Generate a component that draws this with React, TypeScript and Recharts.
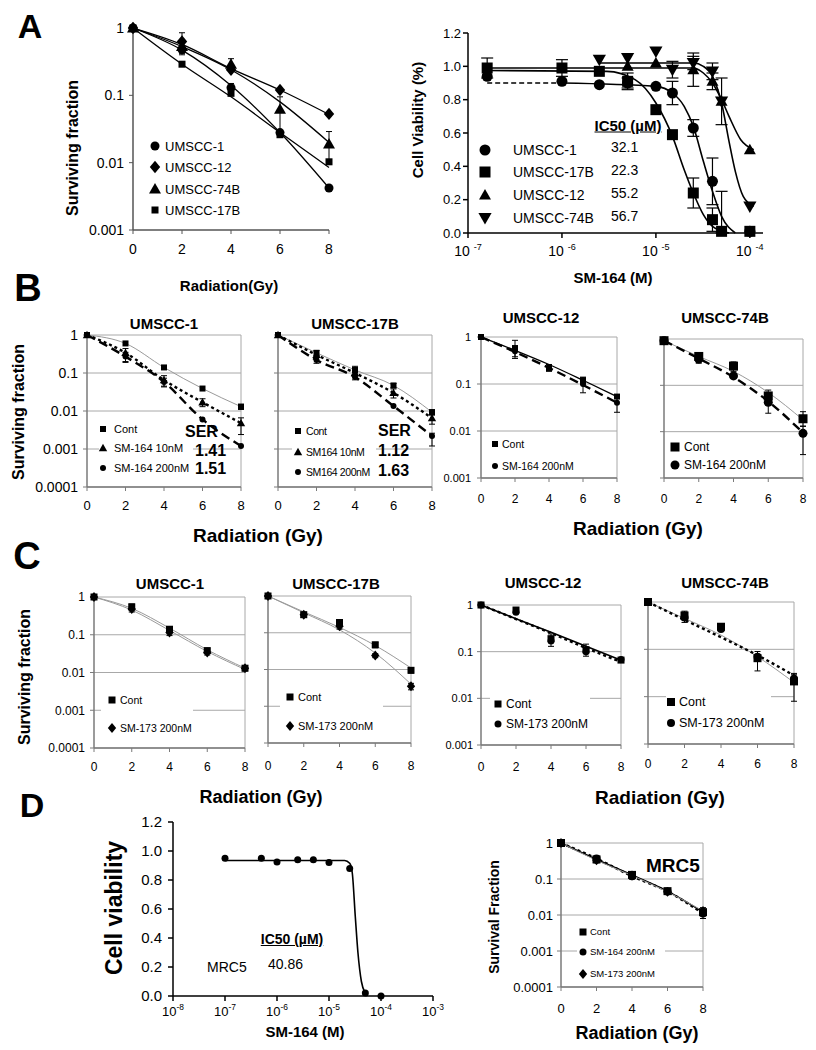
import React from "react";
import {
  ComposedChart,
  Line,
  Scatter,
  XAxis,
  YAxis,
  CartesianGrid,
  ErrorBar,
  ReferenceLine,
} from "recharts";

const FONT = "'Liberation Sans', Arial, Helvetica, sans-serif";

// radiation doses (Gy) shared by every survival panel
const doses = [0, 2, 4, 6, 8];
const dec4 = [0.0001, 0.001, 0.01, 0.1, 1];
const dec3 = [0.001, 0.01, 0.1, 1];

// ---- A (left): survival after radiation
const aUm1 = [1, 0.48, 0.13, 0.028, 0.0042];
const aUm12 = [1, 0.63, 0.24, 0.12, 0.053];
const aUm74 = [1, 0.53, 0.29, 0.062, 0.019];
const aUm17 = [1, 0.29, 0.107, 0.026, 0.0103];
const aFit1 = [1, 0.47, 0.14, 0.028, 0.0042];
const aFit12 = [1, 0.57, 0.25, 0.12, 0.052];
const aFit74 = [1, 0.53, 0.24, 0.08, 0.02];
const aFit17 = [1, 0.29, 0.095, 0.028, 0.0085];
const aErr1 = [0, [0.06, 0.06], [0.02, 0.02], 0, 0];
const aErr12 = [0, [0.23, 0.22], 0, 0, 0];
const aErr74 = [0, 0, [0.05, 0.06], [0.036, 0.033], [0.009, 0.01]];

// ---- A (right): SM-164 dose response
const vConc1 = [1.6e-7, 1e-6, 2.5e-6, 5e-6, 1e-5, 1.5e-5, 2.5e-5, 4e-5, 1e-4];
const vUm1 = [0.94, 0.91, 0.89, 0.9, 0.88, 0.84, 0.63, 0.31, 0.01];
const vErr1 = [0, 0, 0, 0.03, 0, 0.07, 0.05, 0.14, 0];
const vConc17 = [1.6e-7, 1e-6, 2.5e-6, 5e-6, 1e-5, 1.5e-5, 2.5e-5, 4e-5, 5e-5, 1e-4];
const vUm17 = [0.99, 0.99, 0.97, 0.91, 0.74, 0.59, 0.24, 0.08, 0.01, 0.01];
const vErr17 = [0.06, 0.05, 0, 0.05, 0, 0, 0.09, 0.07, [0.01, 0.24], 0];
const vConc12 = [5e-6, 1e-5, 2.5e-5, 4e-5, 5e-5, 1e-4];
const vUm12 = [1.0, 1.02, 0.98, 0.91, 0.79, 0.5];
const vErr12 = [0, 0, 0.1, 0.05, 0, 0];
const vConc74 = [2.5e-6, 5e-6, 1e-5, 1.5e-5, 2.5e-5, 4e-5, 5e-5, 1e-4];
const vUm74 = [1.04, 1.05, 1.09, 0.98, 1.02, 0.97, 0.79, 0.16];
const vErr74 = [0, 0, 0, 0.05, 0.04, 0.05, 0.14, 0];
// fitted curves
const fConc1a = [1.6e-7, 1e-6];
const fUm1a = [0.9, 0.9];
const fConc1b = [1e-6, 1e-5, 1.5e-5, 2e-5, 2.5e-5, 3.2e-5, 4e-5, 5e-5, 7e-5];
const fUm1b = [0.9, 0.88, 0.84, 0.76, 0.64, 0.43, 0.25, 0.1, 0];
const fConc17 = [1.6e-7, 3e-6, 6e-6, 1e-5, 1.5e-5, 2e-5, 2.5e-5, 3.2e-5, 4e-5, 6e-5];
const fUm17 = [0.975, 0.97, 0.92, 0.78, 0.58, 0.38, 0.24, 0.11, 0.04, 0];
const fConc12 = [1.6e-7, 2.5e-5, 3.2e-5, 4e-5, 5e-5, 6e-5, 8e-5, 1.1e-4];
const fUm12 = [0.99, 0.99, 0.96, 0.9, 0.8, 0.7, 0.56, 0.5];
const fConc74 = [2.5e-6, 2.5e-5, 3.2e-5, 4e-5, 5e-5, 6e-5, 7e-5, 8.5e-5, 1.1e-4];
const fUm74 = [1.02, 1.02, 1.0, 0.94, 0.78, 0.55, 0.37, 0.22, 0.16];

// ---- B: SM-164 radiosensitisation
const b1Cont = [1, 0.6, 0.14, 0.039, 0.013];
const b1Sm10 = [1, 0.34, 0.065, 0.017, 0.0048];
const b1Sm200 = [1, 0.27, 0.058, 0.006, 0.0012];
const b1ErrCont = [0, 0, 0, 0, [0.002, 0.002]];
const b1Err10 = [0, [0.14, 0.1], [0.02, 0.02], [0.004, 0.004], [0.0024, 0.0018]];
const b1Err200 = [0, [0.08, 0.08], [0.015, 0.015], 0, 0];

const b2Cont = [1, 0.34, 0.12, 0.047, 0.0093];
const b2Sm10 = [1, 0.3, 0.1, 0.03, 0.0065];
const b2Sm200 = [1, 0.22, 0.078, 0.0135, 0.0022];
const b2ErrCont = [0, [0.05, 0.05], [0.02, 0.03], [0.006, 0.006], [0.0015, 0.0015]];
const b2Err10 = [0, 0, 0, [0.008, 0.008], [0.002, 0.002]];
const b2Err200 = [0, [0.04, 0.04], [0.012, 0.012], 0, [0.001, 0.0004]];

const b3Cont = [1, 0.58, 0.21, 0.12, 0.054];
const b3Sm200 = [1, 0.5, 0.23, 0.1, 0.04];
const b3FitCont = [1, 0.52, 0.26, 0.12, 0.054];
const b3FitSm = [1, 0.48, 0.22, 0.095, 0.04];
const b3ErrCont = [0, [0.2, 0.27], 0, [0.02, 0.02], 0];
const b3ErrSm = [0, [0.15, 0.15], [0.03, 0.03], [0.035, 0.035], [0.015, 0.01]];

const b4Cont = [0.92, 0.42, 0.26, 0.059, 0.019];
const b4Sm200 = [0.92, 0.37, 0.16, 0.043, 0.0092];
const b4FitCont = [0.92, 0.42, 0.2, 0.07, 0.018];
const b4FitSm = [0.92, 0.38, 0.15, 0.045, 0.0095];
const b4ErrCont = [0, [0.08, 0.08], [0.06, 0.06], [0.02, 0.02], [0.006, 0.008]];
const b4ErrSm = [0, [0.07, 0.07], [0.02, 0.02], [0.018, 0.01], [0.006, 0.004]];

// ---- C: SM-173
const c1Cont = [1, 0.55, 0.14, 0.038, 0.013];
const c1Sm173 = [1, 0.48, 0.115, 0.034, 0.013];
const c1FitCont = [1, 0.5, 0.15, 0.04, 0.013];
const c1FitSm = [1, 0.45, 0.13, 0.036, 0.012];
const c1ErrCont = [0, [0.1, 0.1], [0.025, 0.025], [0.006, 0.006], [0.002, 0.002]];
const c1ErrSm = [0, [0.08, 0.08], [0.02, 0.02], [0.005, 0.005], 0];

const c2Cont = [1, 0.31, 0.19, 0.047, 0.0095];
const c2Sm173 = [1, 0.31, 0.15, 0.024, 0.0035];
const c2FitCont = [1, 0.37, 0.14, 0.045, 0.011];
const c2FitSm = [1, 0.35, 0.12, 0.028, 0.004];
const c2ErrCont = [0, [0.04, 0.04], [0.03, 0.03], [0.008, 0.008], [0.0015, 0.0015]];
const c2ErrSm = [0, [0.05, 0.05], [0.025, 0.025], [0.003, 0.003], [0.0007, 0.0007]];

const c3Cont = [1, 0.78, 0.19, 0.11, 0.066];
const c3Sm173 = [1, 0.7, 0.17, 0.1, 0.068];
const c3FitCont = [1, 0.51, 0.26, 0.13, 0.066];
const c3FitSm = [1, 0.5, 0.25, 0.12, 0.06];
const c3ErrCont = [0, [0.1, 0.1], [0.06, 0.05], [0.03, 0.035], 0];

const c4Cont = [1, 0.52, 0.3, 0.065, 0.021];
const c4Sm173 = [1, 0.47, 0.27, 0.07, 0.024];
const c4FitCont = [1, 0.45, 0.2, 0.07, 0.02];
const c4FitSm = [1, 0.42, 0.18, 0.075, 0.028];
const c4ErrCont = [0, [0.1, 0.12], [0.05, 0.05], [0.03, 0.025], [0.013, 0.01]];
const c4ErrSm = [0, [0.1, 0.1], 0, 0, [0.005, 0.005]];

// ---- D: normal fibroblasts MRC5
const dConc = [1e-7, 5e-7, 1e-6, 2.5e-6, 5e-6, 1e-5, 2.5e-5, 5e-5, 1e-4];
const dMrc5 = [0.95, 0.95, 0.925, 0.94, 0.94, 0.92, 0.88, 0.02, 0.0];
const dFitConc = [1e-7, 2e-5, 2.5e-5, 2.8e-5, 3.2e-5, 3.6e-5, 4.2e-5, 5e-5, 5.5e-5];
const dFit = [0.935, 0.935, 0.915, 0.85, 0.55, 0.3, 0.1, 0.02, 0];
const dRCont = [1, 0.35, 0.13, 0.046, 0.012];
const dRSm164 = [1, 0.37, 0.12, 0.045, 0.011];
const dRSm173 = [1, 0.33, 0.125, 0.044, 0.013];
const dRErrCont = [0, [0.07, 0.07], [0.03, 0.03], [0.008, 0.008], [0.004, 0.004]];

const vTicks = [0, 0.2, 0.4, 0.6, 0.8, 1.0, 1.2];
const aConcTicks = [1e-7, 1e-6, 1e-5, 1e-4];
const dConcTicks = [1e-8, 1e-7, 1e-6, 1e-5, 1e-4, 1e-3];

const mark = (kind: string, s: number) => (p: any) => {
  const { cx, cy } = p;
  if (cx == null || cy == null || isNaN(cx) || isNaN(cy)) return <g />;
  const h = s / 2;
  if (kind === "sq") return <rect x={cx - h} y={cy - h} width={s} height={s} fill="#000" />;
  if (kind === "ci") return <circle cx={cx} cy={cy} r={h} fill="#000" />;
  if (kind === "tri")
    return <polygon points={`${cx},${cy - s * 0.6} ${cx - s * 0.6},${cy + s * 0.45} ${cx + s * 0.6},${cy + s * 0.45}`} fill="#000" />;
  if (kind === "tdn")
    return <polygon points={`${cx},${cy + s * 0.6} ${cx - s * 0.6},${cy - s * 0.45} ${cx + s * 0.6},${cy - s * 0.45}`} fill="#000" />;
  return <polygon points={`${cx},${cy - s * 0.62} ${cx + s * 0.52},${cy} ${cx},${cy + s * 0.62} ${cx - s * 0.52},${cy}`} fill="#000" />;
};

const rows = (xs: number[], ys: number[], err?: any[]) =>
  xs.map((x, i) => ({ x, y: ys[i], e: err ? err[i] : 0 }));

function RadPanel({ box, yTicks, series, yFs, yGap = 5, xFs, xGap, framed, axis, cap = 3 }: any) {
  const yw = yFs ? 60 : 14;
  const mt = 10;
  const mr = 12;
  const xh = 34;
  return (
    <div style={{ position: "absolute", left: box.x - yw, top: box.y - mt }}>
      <ComposedChart width={yw + box.w + mr} height={mt + box.h + xh} margin={{ top: mt, right: mr, left: 0, bottom: 0 }}>
        {framed && <CartesianGrid vertical={false} stroke="#a8a8a8" />}
        {framed && <ReferenceLine x={8} stroke="#a8a8a8" />}
        <XAxis
          dataKey="x"
          type="number"
          domain={[0, 8]}
          ticks={doses}
          interval={0}
          height={xh}
          axisLine={{ stroke: axis, strokeWidth: 1.5 }}
          tickLine={{ stroke: axis }}
          tickSize={4}
          tickMargin={xGap}
          tick={{ fontSize: xFs, fill: "#000", fontFamily: FONT }}
        />
        <YAxis
          type="number"
          scale="log"
          domain={[yTicks[0], 1]}
          ticks={yTicks}
          interval={0}
          width={yw}
          axisLine={{ stroke: axis, strokeWidth: 1.5 }}
          tickLine={{ stroke: axis }}
          tickSize={4}
          tickMargin={yGap}
          tick={yFs ? { fontSize: yFs, fill: "#000", fontFamily: FONT } : () => <g />}
          tickFormatter={(v: number) => String(v)}
        />
        {series.map((s: any, i: number) => (
          <Line
            key={"l" + i}
            data={rows(doses, s.fit || s.vals)}
            dataKey="y"
            type="monotone"
            stroke={s.stroke}
            strokeWidth={s.sw}
            strokeDasharray={s.dash}
            dot={false}
            activeDot={false}
            legendType="none"
            isAnimationActive={false}
          />
        ))}
        {series.map((s: any, i: number) => (
          <Scatter
            key={"s" + i}
            data={rows(doses, s.vals, s.err)}
            dataKey="y"
            shape={mark(s.shape, s.size)}
            legendType="none"
            isAnimationActive={false}
          >
            {s.err && <ErrorBar dataKey="e" direction="y" width={cap} stroke="#000" strokeWidth={1} />}
          </Scatter>
        ))}
      </ComposedChart>
    </div>
  );
}

const powTick = (fs: number, gap: string, off: number) => (p: any) => {
  const e = Math.round(Math.log10(p.payload.value));
  return (
    <text x={p.x} y={p.y + off} textAnchor="middle" fontFamily={FONT} fontSize={fs} fill="#000">
      10{gap}
      <tspan dy={-fs * 0.45} fontSize={fs * 0.65}>
        {e}
      </tspan>
    </text>
  );
};

function DosePanel({ box, xDom, xTicks, series, yFs, yGap, tickFs, gap, off, cap = 6 }: any) {
  const yw = 52;
  const mt = 12;
  const mr = 16;
  const xh = 40;
  return (
    <div style={{ position: "absolute", left: box.x - yw, top: box.y - mt }}>
      <ComposedChart width={yw + box.w + mr} height={mt + box.h + xh} margin={{ top: mt, right: mr, left: 0, bottom: 0 }}>
        <XAxis
          dataKey="x"
          type="number"
          scale="log"
          domain={xDom}
          ticks={xTicks}
          interval={0}
          height={xh}
          axisLine={{ stroke: "#000", strokeWidth: 1.5 }}
          tickLine={{ stroke: "#000", strokeWidth: 1.5 }}
          tickSize={5}
          tickMargin={2}
          tick={powTick(tickFs, gap, off)}
        />
        <YAxis
          type="number"
          domain={[0, 1.2]}
          ticks={vTicks}
          interval={0}
          width={yw}
          axisLine={{ stroke: "#000", strokeWidth: 1.5 }}
          tickLine={{ stroke: "#000", strokeWidth: 1.5 }}
          tickSize={5}
          tickMargin={yGap}
          tick={{ fontSize: yFs, fill: "#000", fontFamily: FONT }}
          tickFormatter={(v: number) => v.toFixed(1)}
        />
        {series.flatMap((s: any, i: number) =>
          s.fits.map((f: any, j: number) => (
            <Line
              key={`f${i}-${j}`}
              data={rows(f.conc, f.vals)}
              dataKey="y"
              type="monotone"
              stroke="#000"
              strokeWidth={1.6}
              strokeDasharray={f.dash}
              dot={false}
              activeDot={false}
              legendType="none"
              isAnimationActive={false}
            />
          ))
        )}
        {series.map((s: any, i: number) => (
          <Scatter
            key={"s" + i}
            data={rows(s.conc, s.vals, s.err)}
            dataKey="y"
            shape={mark(s.shape, s.size)}
            legendType="none"
            isAnimationActive={false}
          >
            {s.err && <ErrorBar dataKey="e" direction="y" width={cap} stroke="#000" strokeWidth={1.2} />}
          </Scatter>
        ))}
      </ComposedChart>
    </div>
  );
}

function T({ x, y, s, b, a = "l", u, rot, ls, children }: any) {
  const tx = a === "c" ? "-50%" : a === "r" ? "-100%" : "0";
  return (
    <div
      style={{
        position: "absolute",
        left: x,
        top: y,
        fontFamily: FONT,
        fontSize: s,
        fontWeight: b ? "bold" : "normal",
        lineHeight: 1,
        whiteSpace: "nowrap",
        letterSpacing: ls,
        textDecoration: u ? "underline" : "none",
        transform: `translate(${tx}, -50%)${rot ? " rotate(-90deg)" : ""}`,
      }}
    >
      {children}
    </div>
  );
}

function Mk({ x, y, k, s }: any) {
  const S = Math.ceil(s * 2);
  return (
    <svg style={{ position: "absolute", left: x - S / 2, top: y - S / 2 }} width={S} height={S}>
      {mark(k, s)({ cx: S / 2, cy: S / 2 })}
    </svg>
  );
}

function Blank({ x, y, w, h }: any) {
  return <div style={{ position: "absolute", left: x, top: y, width: w, height: h, background: "#fff" }} />;
}

function Leg({ x, tx, items, s, fs, ls }: any) {
  return (
    <>
      {items.map((it: any, i: number) => (
        <React.Fragment key={i}>
          <Mk x={x} y={it[2]} k={it[0]} s={it[3] || s} />
          <T x={tx} y={it[2]} s={fs} ls={ls}>
            {it[1]}
          </T>
        </React.Fragment>
      ))}
    </>
  );
}

export default function App() {
  const grey = { stroke: "#9a9a9a", sw: 1 };
  const dot = { stroke: "#000", sw: 2.4, dash: "3 3" };
  const dash = { stroke: "#000", sw: 2.4, dash: "9 5" };
  const solid = { stroke: "#000", sw: 1.3 };

  const aSeries = [
    { vals: aUm1, fit: aFit1, err: aErr1, shape: "ci", size: 9, ...solid },
    { vals: aUm12, fit: aFit12, err: aErr12, shape: "dia", size: 10, ...solid },
    { vals: aUm74, fit: aFit74, err: aErr74, shape: "tri", size: 10, ...solid },
    { vals: aUm17, fit: aFit17, shape: "sq", size: 7, ...solid },
  ];

  const vSeries = [
    { conc: vConc1, vals: vUm1, err: vErr1, shape: "ci", size: 11, fits: [{ conc: fConc1a, vals: fUm1a, dash: "5 3" }, { conc: fConc1b, vals: fUm1b }] },
    { conc: vConc17, vals: vUm17, err: vErr17, shape: "sq", size: 11, fits: [{ conc: fConc17, vals: fUm17 }] },
    { conc: vConc12, vals: vUm12, err: vErr12, shape: "tri", size: 10, fits: [{ conc: fConc12, vals: fUm12 }] },
    { conc: vConc74, vals: vUm74, err: vErr74, shape: "tdn", size: 11, fits: [{ conc: fConc74, vals: fUm74 }] },
  ];

  const dSeries = [
    { conc: dConc, vals: dMrc5, shape: "ci", size: 7, fits: [{ conc: dFitConc, vals: dFit }] },
  ];

  return (
    <div style={{ position: "absolute", left: 0, top: 0, width: 816, height: 1050, background: "#fff", overflow: "hidden" }}>
      {/* ---------- A ---------- */}
      <RadPanel box={{ x: 133, y: 28, w: 196, h: 202 }} yTicks={dec3} series={aSeries} yFs={14} yGap={5} xFs={14} xGap={10} axis="#555" cap={3} />
      <DosePanel box={{ x: 468, y: 33, w: 295, h: 200 }} xDom={[1e-7, 1.38e-4]} xTicks={aConcTicks} series={vSeries} yFs={13} yGap={2} tickFs={14} gap=" " off={16} />

      {/* ---------- B ---------- */}
      <RadPanel
        box={{ x: 87, y: 335, w: 154, h: 152 }}
        yTicks={dec4}
        yFs={14}
        xFs={13}
        xGap={10}
        framed
        axis="#7a7a7a"
        series={[
          { vals: b1Cont, err: b1ErrCont, shape: "sq", size: 6, ...grey },
          { vals: b1Sm10, err: b1Err10, shape: "tri", size: 7, ...dot },
          { vals: b1Sm200, err: b1Err200, shape: "ci", size: 6, ...dash },
        ]}
      />
      <RadPanel
        box={{ x: 278, y: 335, w: 154, h: 152 }}
        yTicks={dec4}
        yFs={0}
        xFs={13}
        xGap={10}
        framed
        axis="#7a7a7a"
        series={[
          { vals: b2Cont, err: b2ErrCont, shape: "sq", size: 6, ...grey },
          { vals: b2Sm10, err: b2Err10, shape: "tri", size: 7, ...dot },
          { vals: b2Sm200, err: b2Err200, shape: "ci", size: 6, ...dash },
        ]}
      />
      <RadPanel
        box={{ x: 481, y: 337, w: 136, h: 141 }}
        yTicks={dec3}
        yFs={11}
        yGap={6}
        xFs={12}
        xGap={12}
        framed
        axis="#7a7a7a"
        series={[
          { vals: b3Cont, fit: b3FitCont, err: b3ErrCont, shape: "sq", size: 6, ...solid },
          { vals: b3Sm200, fit: b3FitSm, err: b3ErrSm, shape: "ci", size: 6, ...dash },
        ]}
      />
      <RadPanel
        box={{ x: 664, y: 339, w: 139, h: 139 }}
        yTicks={dec3}
        yFs={0}
        xFs={12}
        xGap={12}
        framed
        axis="#7a7a7a"
        series={[
          { vals: b4Cont, fit: b4FitCont, err: b4ErrCont, shape: "sq", size: 9, ...grey },
          { vals: b4Sm200, fit: b4FitSm, err: b4ErrSm, shape: "ci", size: 9, ...dash },
        ]}
      />

      {/* ---------- C ---------- */}
      <RadPanel
        box={{ x: 94, y: 597, w: 151, h: 151 }}
        yTicks={dec4}
        yFs={12}
        xFs={12}
        xGap={10}
        framed
        axis="#7a7a7a"
        series={[
          { vals: c1Cont, fit: c1FitCont, err: c1ErrCont, shape: "sq", size: 7, ...grey },
          { vals: c1Sm173, fit: c1FitSm, err: c1ErrSm, shape: "dia", size: 8, ...grey },
        ]}
      />
      <RadPanel
        box={{ x: 268, y: 596, w: 143, h: 147 }}
        yTicks={dec4}
        yFs={0}
        xFs={12}
        xGap={14}
        framed
        axis="#7a7a7a"
        series={[
          { vals: c2Cont, fit: c2FitCont, err: c2ErrCont, shape: "sq", size: 7, ...grey },
          { vals: c2Sm173, fit: c2FitSm, err: c2ErrSm, shape: "dia", size: 8, ...grey },
        ]}
      />
      <RadPanel
        box={{ x: 481, y: 605, w: 140, h: 140 }}
        yTicks={dec3}
        yFs={11}
        yGap={4}
        xFs={12}
        xGap={13}
        framed
        axis="#7a7a7a"
        series={[
          { vals: c3Cont, fit: c3FitCont, err: c3ErrCont, shape: "sq", size: 7, stroke: "#000", sw: 1.6 },
          { vals: c3Sm173, fit: c3FitSm, shape: "ci", size: 7, ...dot },
        ]}
      />
      <RadPanel
        box={{ x: 648, y: 602, w: 146, h: 142 }}
        yTicks={dec3}
        yFs={0}
        xFs={12}
        xGap={11}
        framed
        axis="#7a7a7a"
        series={[
          { vals: c4Cont, fit: c4FitCont, err: c4ErrCont, shape: "sq", size: 8, ...grey },
          { vals: c4Sm173, fit: c4FitSm, err: c4ErrSm, shape: "ci", size: 8, ...dot },
        ]}
      />

      {/* ---------- D ---------- */}
      <DosePanel box={{ x: 173, y: 822, w: 260, h: 174 }} xDom={[1e-8, 1e-3]} xTicks={dConcTicks} series={dSeries} yFs={15} yGap={6} tickFs={13} gap="" off={13} />
      <RadPanel
        box={{ x: 561, y: 843, w: 142, h: 144 }}
        yTicks={dec4}
        yFs={13}
        yGap={4}
        xFs={13}
        xGap={13}
        framed
        axis="#7a7a7a"
        series={[
          { vals: dRCont, err: dRErrCont, shape: "sq", size: 8, stroke: "#000", sw: 1.6 },
          { vals: dRSm164, shape: "ci", size: 8, ...dot },
          { vals: dRSm173, shape: "dia", size: 8, ...grey },
        ]}
      />

      {/* white legend patches over the gridlines */}
      <Blank x={99} y={420} w={94} h={57} />
      <Blank x={292} y={422} w={84} h={57} />
      <Blank x={101} y={690} w={92} h={50} />
      <Blank x={280} y={686} w={103} h={50} />
      <Blank x={490} y={690} w={100} h={44} />
      <Blank x={666} y={690} w={105} h={42} />
      <Blank x={577} y={922} w={88} h={62} />

      {/* panel letters */}
      <T x={30} y={26} s={34} b a="c">A</T>
      <T x={28} y={288} s={38} b a="c">B</T>
      <T x={27} y={556} s={38} b a="c">C</T>
      <T x={32} y={805} s={34} b a="c">D</T>

      {/* A labels */}
      <T x={73} y={148} s={16} b a="c" rot>Surviving fraction</T>
      <T x={229} y={285} s={15} b a="c">Radiation(Gy)</T>
      <Leg
        x={155}
        tx={165}
        s={9}
        fs={13}
        items={[
          ["ci", "UMSCC-1", 146],
          ["dia", "UMSCC-12", 167, 10],
          ["tri", "UMSCC-74B", 189, 10],
          ["sq", "UMSCC-17B", 210, 7],
        ]}
      />
      <T x={417} y={120} s={15} b a="c" rot>Cell Viability (%)</T>
      <T x={613} y={277} s={15} b a="c">SM-164 (M)</T>
      <T x={628} y={125} s={15} b a="c" u>IC50 (µM)</T>
      <Leg
        x={485}
        tx={513}
        s={11}
        fs={14}
        items={[
          ["ci", "UMSCC-1", 150],
          ["sq", "UMSCC-17B", 172],
          ["tri", "UMSCC-12", 195, 10],
          ["tdn", "UMSCC-74B", 218],
        ]}
      />
      <T x={611} y={147} s={14}>32.1</T>
      <T x={611} y={170} s={14}>22.3</T>
      <T x={611} y={193} s={14}>55.2</T>
      <T x={611} y={216} s={14}>56.7</T>

      {/* B labels */}
      <T x={164} y={323} s={15} b a="c">UMSCC-1</T>
      <T x={355} y={323} s={15} b a="c">UMSCC-17B</T>
      <T x={541} y={317} s={15} b a="c">UMSCC-12</T>
      <T x={725} y={317} s={15} b a="c">UMSCC-74B</T>
      <T x={19} y={412} s={16} b a="c" rot>Surviving fraction</T>
      <T x={258} y={535} s={19} b a="c">Radiation (Gy)</T>
      <T x={638} y={528} s={19} b a="c">Radiation (Gy)</T>
      <Leg
        x={103}
        tx={114}
        s={6}
        fs={11}
        items={[
          ["sq", "Cont", 429],
          ["tri", "SM-164 10nM", 448, 7],
          ["ci", "SM-164 200nM", 468],
        ]}
      />
      <T x={185} y={432} s={16} b>SER</T>
      <T x={195} y={451} s={16} b>1.41</T>
      <T x={195} y={469} s={16} b>1.51</T>
      <Leg
        x={298}
        tx={306}
        s={6}
        fs={10.5}
        ls={-0.4}
        items={[
          ["sq", "Cont", 431],
          ["tri", "SM164 10nM", 452, 7],
          ["ci", "SM164 200nM", 472],
        ]}
      />
      <T x={378} y={431} s={16} b>SER</T>
      <T x={378} y={451} s={16} b>1.12</T>
      <T x={378} y={471} s={16} b>1.63</T>
      <Leg
        x={495}
        tx={502}
        s={6}
        fs={10.5}
        items={[
          ["sq", "Cont", 444],
          ["ci", "SM-164 200nM", 466],
        ]}
      />
      <Leg
        x={675}
        tx={684}
        s={9}
        fs={12}
        items={[
          ["sq", "Cont", 447],
          ["ci", "SM-164 200nM", 465],
        ]}
      />

      {/* C labels */}
      <T x={170} y={583} s={15} b a="c">UMSCC-1</T>
      <T x={336} y={583} s={15} b a="c">UMSCC-17B</T>
      <T x={543} y={582} s={15} b a="c">UMSCC-12</T>
      <T x={725} y={582} s={15} b a="c">UMSCC-74B</T>
      <T x={25} y={677} s={16} b a="c" rot>Surviving fraction</T>
      <T x={261} y={797} s={18} b a="c">Radiation (Gy)</T>
      <T x={660} y={797} s={19} b a="c">Radiation (Gy)</T>
      <Leg
        x={112}
        tx={120}
        s={7}
        fs={10.5}
        items={[
          ["sq", "Cont", 700],
          ["dia", "SM-173 200nM", 728, 8],
        ]}
      />
      <Leg
        x={290}
        tx={298}
        s={7}
        fs={11}
        items={[
          ["sq", "Cont", 697],
          ["dia", "SM-173 200nM", 726, 8],
        ]}
      />
      <Leg
        x={498}
        tx={506}
        s={7}
        fs={12}
        items={[
          ["sq", "Cont", 704],
          ["ci", "SM-173 200nM", 724],
        ]}
      />
      <Leg
        x={671}
        tx={679}
        s={8}
        fs={12.5}
        items={[
          ["sq", "Cont", 702],
          ["ci", "SM-173 200nM", 723],
        ]}
      />

      {/* D labels */}
      <T x={114} y={908} s={23} b a="c" rot>Cell viability</T>
      <T x={305} y={1031} s={15} b a="c">SM-164 (M)</T>
      <T x={292} y={939} s={14} b a="c" u>IC50 (µM)</T>
      <T x={207} y={967} s={14}>MRC5</T>
      <T x={268} y={964} s={14}>40.86</T>
      <T x={494} y={917} s={14} b a="c" rot>Survival Fraction</T>
      <T x={637} y={1033} s={18} b a="c">Radiation (Gy)</T>
      <T x={646} y={865} s={19} b>MRC5</T>
      <Leg
        x={583}
        tx={590}
        s={7}
        fs={9.5}
        items={[
          ["sq", "Cont", 932],
          ["ci", "SM-164 200nM", 952],
          ["dia", "SM-173 200nM", 974, 8],
        ]}
      />
    </div>
  );
}
